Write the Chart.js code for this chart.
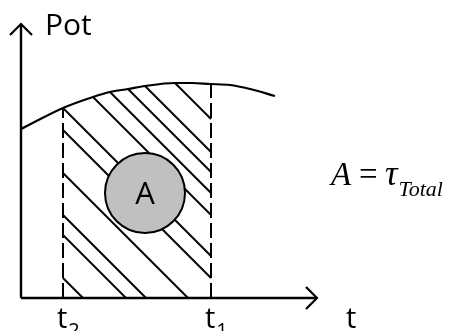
<!DOCTYPE html>
<html><head><meta charset="utf-8">
<script src="https://cdn.jsdelivr.net/npm/chart.js@4/dist/chart.umd.min.js"></script>
<style>html,body{margin:0;padding:0;background:#fff;} canvas{display:block;}</style>
</head><body>
<canvas id="c" width="450" height="331"></canvas>
<script>
// ---- data (t along the time axis, Pot along the vertical axis) ----
const curveT = [0, 42, 72, 89, 107, 124, 154, 171, 189, 209, 229, 254];
const curveP = [169, 190, 201, 206, 209, 212, 215, 215, 214, 213, 209, 202];
const tickValues = [42, 190];           // t2, t1
const tickNames = ['t', 't'];
const tickSubs = ['2', '1'];
const hatchFeet = [62, 105, 125, 167, 210, 232, 273, 295, 316, 336, 369]; // where each hatch line meets P=0
const circleT = [124];
const circleP = [105];
const circleLabel = 'A';
const axisTEnd = 296;
const axisPEnd = 274;
const axisNames = ['t', 'Pot'];

// ---- helpers ----
function curveAt(t) {
  for (let i = 0; i < curveT.length - 1; i++) {
    if (t >= curveT[i] && t <= curveT[i + 1]) {
      const f = (t - curveT[i]) / (curveT[i + 1] - curveT[i]);
      return curveP[i] + f * (curveP[i + 1] - curveP[i]);
    }
  }
  return curveP[curveP.length - 1];
}
const t2 = tickValues[0], t1 = tickValues[1];
const hatchSets = hatchFeet.map(k => {
  let lo = t2;
  if (k - t2 > curveAt(t2)) {
    let a = t2, b = t1;
    for (let i = 0; i < 50; i++) {
      const m = (a + b) / 2;
      if (k - m > curveAt(m)) a = m; else b = m;
    }
    lo = (a + b) / 2;
  }
  const hi = Math.min(t1, k);
  return {
    data: [{x: lo, y: k - lo}, {x: hi, y: k - hi}],
    showLine: true, pointRadius: 0, borderColor: '#000', borderWidth: 2,
    clip: false, order: 3
  };
});
const arm = 11;
const datasets = [
  { // circle
    data: circleT.map((t, i) => ({x: t, y: circleP[i]})),
    pointRadius: 40, pointBackgroundColor: '#c0c0c0', pointBorderColor: '#000',
    pointBorderWidth: 2, showLine: false, clip: false, order: 0
  },
  { // curve
    data: curveT.map((t, i) => ({x: t, y: curveP[i]})),
    showLine: true, pointRadius: 0, borderColor: '#000', borderWidth: 2.2,
    cubicInterpolationMode: 'monotone', clip: false, order: 1
  },
  ...tickValues.map(v => ({
    data: [{x: v, y: 0}, {x: v, y: curveAt(v)}],
    showLine: true, pointRadius: 0, borderColor: '#000', borderWidth: 2,
    borderDash: [15, 5], clip: false, order: 2
  })),
  ...hatchSets,
  { // t axis
    data: [{x: 0, y: 0}, {x: axisTEnd, y: 0}],
    showLine: true, pointRadius: 0, borderColor: '#000', borderWidth: 2.4, clip: false, order: 1
  },
  { // t arrow head
    data: [{x: axisTEnd - arm, y: arm}, {x: axisTEnd, y: 0}, {x: axisTEnd - arm, y: -arm}],
    showLine: true, pointRadius: 0, borderColor: '#000', borderWidth: 2.2, clip: false, order: 1
  },
  { // Pot axis
    data: [{x: 0, y: 0}, {x: 0, y: axisPEnd}],
    showLine: true, pointRadius: 0, borderColor: '#000', borderWidth: 2.4, clip: false, order: 1
  },
  { // Pot arrow head
    data: [{x: -arm, y: axisPEnd - arm}, {x: 0, y: axisPEnd}, {x: arm, y: axisPEnd - arm}],
    showLine: true, pointRadius: 0, borderColor: '#000', borderWidth: 2.2, clip: false, order: 1
  }
];

const textPlugin = {
  id: 'texts',
  afterDatasetsDraw(chart) {
    const ctx = chart.ctx, xs = chart.scales.x, ys = chart.scales.y;
    ctx.save();
    ctx.fillStyle = '#000';
    ctx.textBaseline = 'alphabetic';
    // label inside circle
    ctx.font = '31px "Open Sans"';
    ctx.textAlign = 'center';
    ctx.fillText(circleLabel, xs.getPixelForValue(circleT[0]), ys.getPixelForValue(circleP[0]) + 11);
    // tick labels
    ctx.textAlign = 'left';
    tickValues.forEach((v, i) => {
      const px = xs.getPixelForValue(v);
      ctx.font = '29px "Open Sans"';
      const w = ctx.measureText(tickNames[i]).width;
      ctx.fillText(tickNames[i], px - 6, 328);
      ctx.font = '20px "Open Sans"';
      ctx.fillText(tickSubs[i], px - 6 + w + 1, 337);
    });
    // axis names
    ctx.font = '29px "Open Sans"';
    ctx.fillText(axisNames[0], xs.getPixelForValue(axisTEnd) + 29, 328);
    ctx.font = '30px "Open Sans"';
    ctx.fillText(axisNames[1], xs.getPixelForValue(0) + 24, 35);
    // formula
    const base = 185;
    ctx.font = 'italic 33px "Liberation Serif"';
    ctx.fillText('A', 331, base);
    ctx.font = '33px "Liberation Serif"';
    ctx.fillText('=', 359, base);
    ctx.font = 'italic 35px "Liberation Serif"';
    ctx.fillText('\u03C4', 385, base);
    const tw = ctx.measureText('\u03C4').width;
    ctx.font = 'italic 22px "Liberation Serif"';
    ctx.fillText('Total', 385 + tw + 1, 196);
    ctx.restore();
  }
};

new Chart(document.getElementById('c'), {
  type: 'scatter',
  data: { datasets },
  options: {
    responsive: false,
    animation: false,
    events: [],
    layout: { autoPadding: false, padding: { left: 21, right: 0, top: 0, bottom: 33 } },
    plugins: { legend: { display: false }, tooltip: { enabled: false } },
    scales: {
      x: { type: 'linear', display: false, min: 0, max: 429 },
      y: { type: 'linear', display: false, min: 0, max: 298 }
    }
  },
  plugins: [textPlugin]
});
</script>
</body></html>
